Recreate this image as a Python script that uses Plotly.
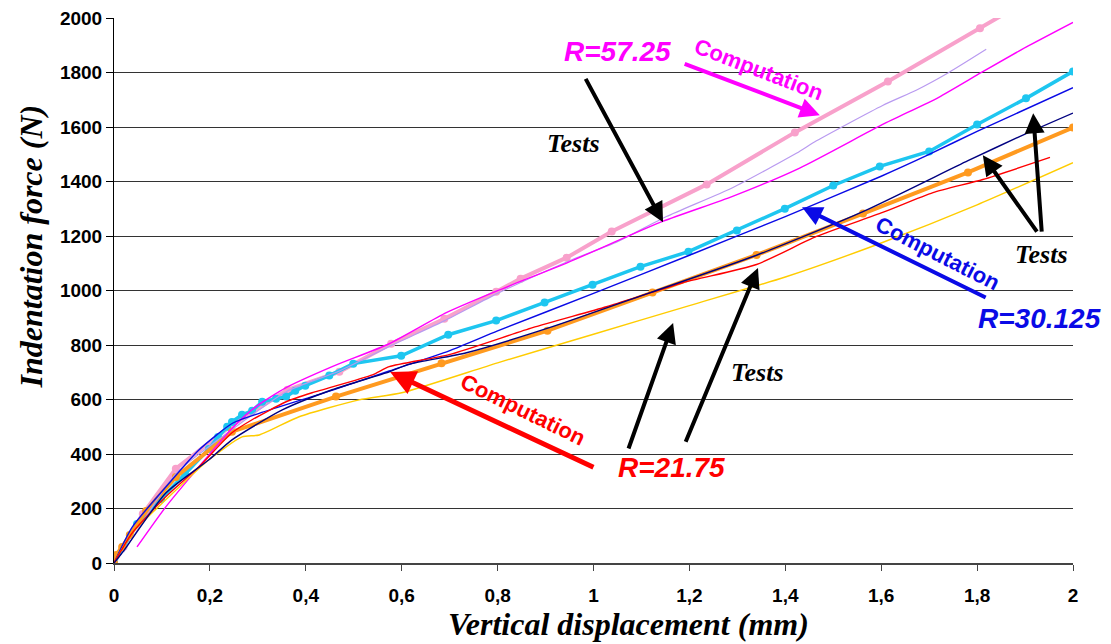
import plotly.graph_objects as go

# ---------------- data ----------------
# R = 57.25 : computation (pink, markers) and tests (magenta, lavender)
comp57_x = [0, 0.02, 0.06, 0.129, 0.245, 0.362, 0.47, 0.578, 0.689, 0.797, 0.848, 0.944, 1.038, 1.236, 1.42, 1.614, 1.806, 1.9]
comp57_y = [0, 60, 180, 346, 505, 636, 702, 805, 897, 996, 1044, 1121, 1217, 1390, 1581, 1768, 1963, 2060]

testA57_x = [0.048, 0.108, 0.177, 0.247, 0.296, 0.358, 0.455, 0.574, 0.693, 0.80, 0.946, 1.144, 1.29, 1.43, 1.603, 1.72, 1.81, 1.902, 2.0]
testA57_y = [59, 206, 353, 496, 574, 643, 721, 805, 919, 1000, 1103, 1254, 1346, 1450, 1610, 1710, 1802, 1894, 1985]

testB57_x = [0.02, 0.13, 0.25, 0.36, 0.47, 0.58, 0.69, 0.80, 0.95, 1.05, 1.152, 1.29, 1.424, 1.465, 1.603, 1.673, 1.742, 1.819]
testB57_y = [40, 330, 495, 630, 705, 800, 890, 990, 1110, 1180, 1272, 1378, 1505, 1550, 1680, 1736, 1802, 1886]

# R = 30.125 : computation (cyan, markers) and test (blue)
comp30_x = [0, 0.048, 0.098, 0.148, 0.198, 0.217, 0.236, 0.246, 0.267, 0.288, 0.309, 0.338, 0.359, 0.378, 0.399, 0.449, 0.499, 0.599, 0.697, 0.797, 0.898, 0.998, 1.098, 1.198, 1.299, 1.399, 1.5, 1.597, 1.7, 1.8, 1.902, 2.0]
comp30_y = [0, 143, 235, 327, 419, 463, 500, 518, 544, 559, 592, 603, 611, 632, 651, 688, 732, 761, 838, 890, 956, 1022, 1088, 1143, 1221, 1301, 1386, 1456, 1511, 1610, 1706, 1805]

test30_x = [0, 0.038, 0.108, 0.177, 0.248, 0.304, 0.456, 0.574, 0.699, 0.8, 1.0, 1.2, 1.4, 1.6, 1.7, 1.8, 2.0]
test30_y = [0, 132, 279, 415, 514, 550, 635, 705, 779, 852, 990, 1130, 1272, 1420, 1500, 1585, 1745]

# R = 21.75 : computation (orange, markers) and tests (navy, red, gold)
comp21_x = [0, 0.004, 0.017, 0.033, 0.067, 0.129, 0.246, 0.463, 0.683, 0.904, 1.123, 1.34, 1.562, 1.781, 2.0]
comp21_y = [0, 29, 59, 103, 191, 316, 482, 611, 733, 853, 993, 1131, 1283, 1434, 1599]

testA21_x = [0, 0.017, 0.108, 0.198, 0.246, 0.351, 0.455, 0.574, 0.616, 0.735, 0.908, 1.117, 1.34, 1.562, 1.781, 1.9, 2.0]
testA21_y = [0, 37, 257, 379, 452, 562, 636, 702, 730, 772, 864, 992, 1130, 1290, 1477, 1575, 1652]

testB21_x = [0, 0.038, 0.108, 0.177, 0.246, 0.288, 0.359, 0.413, 0.539, 0.574, 0.699, 0.873, 1.027, 1.186, 1.34, 1.465, 1.603, 1.708, 1.812, 1.952]
testB21_y = [0, 110, 243, 353, 478, 526, 592, 625, 691, 721, 765, 864, 941, 1029, 1096, 1199, 1287, 1360, 1408, 1489]

testC21_x = [0, 0.038, 0.108, 0.198, 0.267, 0.303, 0.386, 0.511, 0.6, 0.8, 1.0, 1.2, 1.4, 1.6, 1.8, 2.0]
testC21_y = [0, 110, 232, 379, 463, 470, 537, 599, 625, 735, 840, 945, 1050, 1175, 1315, 1470]

# axes
x_ticks = [0, 0.2, 0.4, 0.6, 0.8, 1.0, 1.2, 1.4, 1.6, 1.8, 2.0]
x_tick_labels = ["0", "0,2", "0,4", "0,6", "0,8", "1", "1,2", "1,4", "1,6", "1,8", "2"]
y_ticks = [0, 200, 400, 600, 800, 1000, 1200, 1400, 1600, 1800, 2000]
x_title = "Vertical displacement (mm)"
y_title = "Indentation force (N)"

# ---------------- figure ----------------
fig = go.Figure()


def comp(x, y, color, width):
    fig.add_trace(go.Scatter(x=x, y=y, mode="lines+markers",
                             line=dict(color=color, width=width),
                             marker=dict(color=color, size=8),
                             showlegend=False, hoverinfo="skip"))


def test(x, y, color, width=1.4):
    fig.add_trace(go.Scatter(x=x, y=y, mode="lines",
                             line=dict(color=color, width=width, shape="spline", smoothing=0.6),
                             showlegend=False, hoverinfo="skip"))


comp(comp57_x, comp57_y, "#F8A1CB", 4)
comp(comp30_x, comp30_y, "#1EC6F0", 3.5)
comp(comp21_x, comp21_y, "#FF9A1F", 4)
test(testB57_x, testB57_y, "#B99AF0", 1.2)
test(testA57_x, testA57_y, "#FF00FF", 1.4)
test(test30_x, test30_y, "#0A0AE6", 1.4)
test(testC21_x, testC21_y, "#FFCC00", 1.4)
test(testB21_x, testB21_y, "#FF0000", 1.4)
test(testA21_x, testA21_y, "#000080", 1.4)

ARIAL = "Liberation Sans, Arial, sans-serif"
TIMES = "Liberation Serif, Times New Roman, serif"

annotations = []


def label(x, y, text, color, size, family=ARIAL, angle=0, italic=False):
    annotations.append(dict(x=x, y=y, xref="x", yref="y", text=text, showarrow=False,
                            textangle=angle,
                            font=dict(family=family, size=size, color=color,
                                      weight="bold", style="italic" if italic else "normal")))


def arrow(x_head, y_head, x_tail, y_tail, color, width=4):
    annotations.append(dict(x=x_head, y=y_head, ax=x_tail, ay=y_tail,
                            xref="x", yref="y", axref="x", ayref="y",
                            text="", showarrow=True, arrowhead=2, arrowsize=1,
                            arrowwidth=width, arrowcolor=color, standoff=0, startstandoff=0))


# R = 57.25 group
label(1.049, 1879, "R=57.25", "#FF00FF", 28, italic=True)
label(1.345, 1812, "Computation", "#FF00FF", 22, angle=21)
arrow(1.472, 1644, 1.187, 1835, "#FF00FF", 4)
label(0.959, 1541, "Tests", "black", 26, family=TIMES, italic=True)
arrow(1.145, 1251, 0.982, 1783, "black", 4)

# R = 30.125 group
label(1.931, 899, "R=30.125", "#0A0AE6", 28, italic=True)
label(1.718, 1138, "Computation", "#0A0AE6", 22, angle=27)
arrow(1.435, 1306, 1.821, 972, "#0A0AE6", 4)
label(1.935, 1134, "Tests", "black", 26, family=TIMES, italic=True)
arrow(1.917, 1651, 1.935, 1211, "black", 4)
arrow(1.812, 1497, 1.927, 1211, "black", 4)

# R = 21.75 group
label(1.162, 352, "R=21.75", "#FF0000", 28, italic=True)
label(0.852, 562, "Computation", "#FF0000", 22, angle=26)
arrow(0.576, 701, 1.003, 349, "#FF0000", 5)
label(1.341, 701, "Tests", "black", 26, family=TIMES, italic=True)
arrow(1.166, 881, 1.072, 415, "black", 4)
arrow(1.343, 1083, 1.191, 440, "black", 4)

# axis titles (placed as in the original: slightly off-centre)
annotations.append(dict(x=0.536, y=-0.112, xref="paper", yref="paper", text=x_title,
                        showarrow=False, xanchor="center", yanchor="middle",
                        font=dict(family=TIMES, size=32, color="black", weight="bold", style="italic")))
annotations.append(dict(x=-0.087, y=0.58, xref="paper", yref="paper", text=y_title,
                        showarrow=False, xanchor="center", yanchor="middle", textangle=-90,
                        font=dict(family=TIMES, size=32, color="black", weight="bold", style="italic")))

# the page body keeps an 8 px default margin, so the figure is 8 px smaller
fig.update_layout(
    width=1103, height=636,
    margin=dict(l=106, r=38, t=10, b=81),
    plot_bgcolor="white", paper_bgcolor="white",
    annotations=annotations,
    xaxis=dict(range=[0, 2], tickvals=x_ticks, ticktext=x_tick_labels,
               showgrid=False, zeroline=False, showline=True, linecolor="#444", linewidth=2,
               ticks="outside", ticklen=6, tickcolor="#444", tickwidth=1,
               ticklabelstandoff=8, automargin=False, ticklabeloverflow="allow",
               tickfont=dict(family=ARIAL, size=19, color="black", weight="bold")),
    yaxis=dict(range=[0, 2001], tickvals=y_ticks,
               showgrid=True, gridcolor="#333", gridwidth=1, zeroline=False,
               showline=True, linecolor="black", linewidth=1,
               ticks="outside", ticklen=7, tickcolor="black", tickwidth=1, automargin=False,
               ticklabeloverflow="allow",
               tickfont=dict(family=ARIAL, size=19, color="black", weight="bold")),
)

fig.write_html("out.html")
